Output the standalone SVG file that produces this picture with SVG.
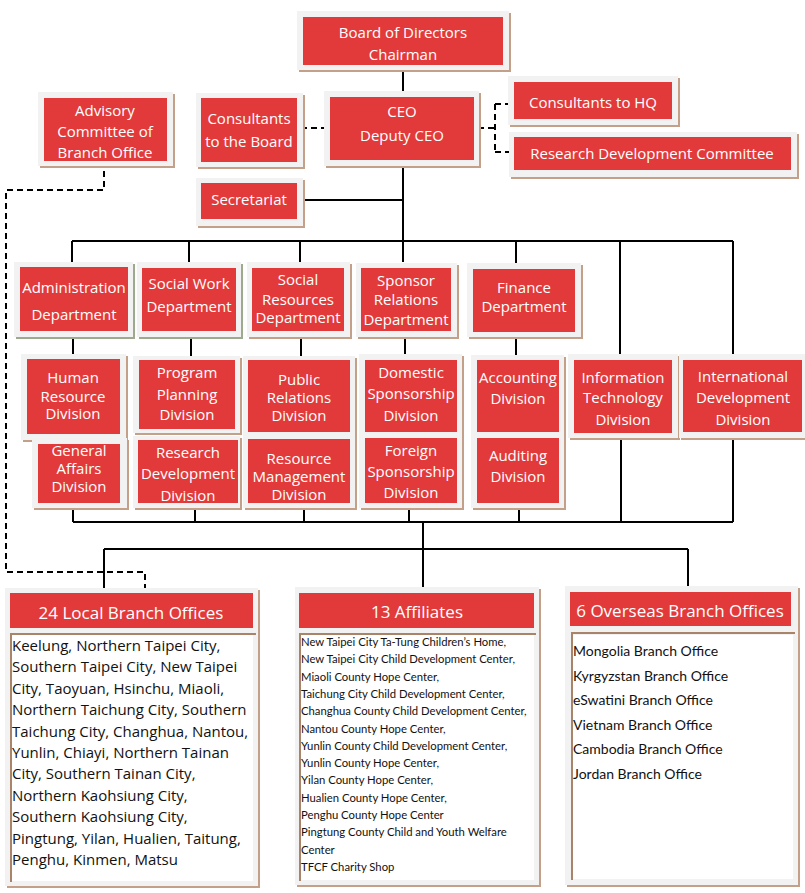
<svg xmlns="http://www.w3.org/2000/svg" width="805" height="893" viewBox="0 0 805 893">
<style>
.sh{fill:#c4a089}
.shg{fill:#9eaa8e}
.fr{fill:#f2f2f2}
.bx{fill:#e23a3a}
.t{font-family:"Open Sans","Liberation Sans",sans-serif;font-size:15px;fill:#ffffff;text-anchor:middle}
.h{font-family:"Open Sans","Liberation Sans",sans-serif;font-size:17px;fill:#ffffff;text-anchor:middle}
.bd{fill:#ffffff}
.bl{fill:#a98468}
.lt{font-family:"Open Sans","Liberation Sans",sans-serif;font-size:15px;fill:#111111}
.at{font-family:Lato,"Liberation Sans",sans-serif;font-size:11.3px;fill:#111111}
.ot{font-family:Lato,"Liberation Sans",sans-serif;font-size:14px;fill:#111111}
.ln{fill:none;stroke:#000;stroke-width:2}
.dl{fill:none;stroke:#000;stroke-width:2;stroke-dasharray:6 4}
</style>
<rect width="805" height="893" fill="#ffffff"/>
<g id="connectors">
<path class="ln" d="M403,70V97M403,160V241M297,200H403M72,241H733M72,241V262M189,241V262M300,241V262M403,241V262M516,241V263M620,241V354M733,241V354"/>
<path class="ln" d="M73,331V357M191,331V357M301,331V357M405,331V357M516,332V358"/>
<path class="ln" d="M73,503V522M195,503V522M304,503V522M409,503V522M519,503V522M621,433V522M733,432V522M73,522H733"/>
<path class="ln" d="M423,522V587M104,549H688M104,549V588M688,549V586"/>
<path class="dl" d="M301,128H328M478,128H495M495,104V152M495,104H510M495,152H510"/>
<path class="dl" d="M104,161V190H6V572H145V588"/>
</g>
<g id="board"><rect class="sh" x="299" y="13" width="212" height="59"/><rect class="fr" x="297" y="11" width="212" height="59"/><rect class="bx" x="303" y="17" width="200" height="48"/><text class="t" x="403" y="38">Board of Directors</text><text class="t" x="403" y="60">Chairman</text></g>
<g id="ceo"><rect class="sh" x="326" y="93" width="155" height="75"/><rect class="fr" x="324" y="91" width="155" height="75"/><rect class="bx" x="330" y="97" width="144" height="63"/><text class="t" x="402" y="117">CEO</text><text class="t" x="402" y="141">Deputy CEO</text></g>
<g id="consultants-board"><rect class="sh" x="198" y="95" width="107" height="74"/><rect class="fr" x="196" y="93" width="107" height="74"/><rect class="bx" x="201" y="98" width="96" height="64"/><text class="t" x="249" y="124">Consultants</text><text class="t" x="249" y="147">to the Board</text></g>
<g id="advisory"><rect class="sh" x="40" y="94" width="135" height="74"/><rect class="fr" x="38" y="92" width="135" height="74"/><rect class="bx" x="44" y="98" width="123" height="63"/><text class="t" x="105" y="116">Advisory</text><text class="t" x="105" y="137">Committee of</text><text class="t" x="105" y="158">Branch Office</text></g>
<g id="secretariat"><rect class="sh" x="198" y="180" width="107" height="48"/><rect class="fr" x="196" y="178" width="107" height="48"/><rect class="bx" x="201" y="183" width="96" height="36"/><text class="t" x="249" y="205">Secretariat</text></g>
<g id="consultants-hq"><rect class="sh" x="510" y="78" width="170" height="49"/><rect class="fr" x="508" y="76" width="170" height="49"/><rect class="bx" x="514" y="82" width="158" height="37"/><text class="t" x="593" y="108">Consultants to HQ</text></g>
<g id="rdc"><rect class="sh" x="511" y="134" width="288" height="45"/><rect class="fr" x="509" y="132" width="288" height="45"/><rect class="bx" x="514" y="137" width="277" height="33"/><text class="t" x="652" y="159">Research Development Committee</text></g>
<g id="admin"><rect class="shg" x="16" y="264" width="119" height="75"/><rect class="fr" x="14" y="262" width="119" height="75"/><rect class="bx" x="20" y="267" width="108" height="64"/><text class="t" x="74" y="293">Administration</text><text class="t" x="74" y="320">Department</text></g>
<g id="social-work"><rect class="shg" x="139" y="264" width="104" height="75"/><rect class="fr" x="137" y="262" width="104" height="75"/><rect class="bx" x="142" y="268" width="94" height="63"/><text class="t" x="189" y="289">Social Work</text><text class="t" x="189" y="312">Department</text></g>
<g id="social-resources"><rect class="sh" x="249" y="264" width="103" height="75"/><rect class="fr" x="247" y="262" width="103" height="75"/><rect class="bx" x="252" y="268" width="92" height="63"/><text class="t" x="298" y="285">Social</text><text class="t" x="298" y="305">Resources</text><text class="t" x="298" y="323">Department</text></g>
<g id="sponsor-relations"><rect class="sh" x="358" y="265" width="101" height="74"/><rect class="fr" x="356" y="263" width="101" height="74"/><rect class="bx" x="361" y="268" width="90" height="63"/><text class="t" x="406" y="286">Sponsor</text><text class="t" x="406" y="305">Relations</text><text class="t" x="406" y="325">Department</text></g>
<g id="finance"><rect class="sh" x="469" y="265" width="114" height="74"/><rect class="fr" x="467" y="263" width="114" height="74"/><rect class="bx" x="473" y="269" width="102" height="63"/><text class="t" x="524" y="293">Finance</text><text class="t" x="524" y="312">Department</text></g>
<g id="human-resource"><rect class="sh" x="23" y="356" width="105" height="86"/><rect class="fr" x="21" y="354" width="105" height="86"/><rect class="bx" x="27" y="359" width="93" height="75"/><text class="t" x="73" y="383">Human</text><text class="t" x="73" y="402">Resource</text><text class="t" x="73" y="419">Division</text></g>
<g id="general-affairs"><rect class="sh" x="34" y="440" width="95" height="70"/><rect class="fr" x="32" y="438" width="95" height="70"/><rect class="bx" x="38" y="444" width="82" height="59"/><text class="t" x="79" y="456">General</text><text class="t" x="79" y="474">Affairs</text><text class="t" x="79" y="492">Division</text></g>
<g id="program-planning"><rect class="sh" x="135" y="358" width="107" height="77"/><rect class="fr" x="133" y="356" width="107" height="77"/><rect class="bx" x="139" y="360" width="96" height="69"/><text class="t" x="187" y="378">Program</text><text class="t" x="187" y="400">Planning</text><text class="t" x="187" y="420">Division</text></g>
<g id="research-development"><rect class="sh" x="135" y="438" width="107" height="72"/><rect class="fr" x="133" y="436" width="107" height="72"/><rect class="bx" x="138" y="440" width="100" height="63"/><text class="t" x="188" y="458">Research</text><text class="t" x="188" y="479">Development</text><text class="t" x="188" y="501">Division</text></g>
<g id="public-relations"><rect class="sh" x="245" y="358" width="112" height="80"/><rect class="fr" x="243" y="356" width="112" height="80"/><rect class="bx" x="248" y="360" width="102" height="72"/><text class="t" x="299" y="385">Public</text><text class="t" x="299" y="403">Relations</text><text class="t" x="299" y="421">Division</text></g>
<g id="resource-management"><rect class="sh" x="245" y="436" width="112" height="74"/><rect class="fr" x="243" y="434" width="112" height="74"/><rect class="bx" x="248" y="439" width="102" height="64"/><text class="t" x="299" y="464">Resource</text><text class="t" x="299" y="482">Management</text><text class="t" x="299" y="500">Division</text></g>
<g id="domestic-sponsorship"><rect class="sh" x="361" y="356" width="103" height="82"/><rect class="fr" x="359" y="354" width="103" height="82"/><rect class="bx" x="365" y="360" width="92" height="72"/><text class="t" x="411" y="378">Domestic</text><text class="t" x="411" y="399">Sponsorship</text><text class="t" x="411" y="421">Division</text></g>
<g id="foreign-sponsorship"><rect class="sh" x="361" y="434" width="103" height="76"/><rect class="fr" x="359" y="432" width="103" height="76"/><rect class="bx" x="365" y="438" width="92" height="65"/><text class="t" x="411" y="456">Foreign</text><text class="t" x="411" y="477">Sponsorship</text><text class="t" x="411" y="498">Division</text></g>
<g id="accounting"><rect class="sh" x="473" y="357" width="93" height="81"/><rect class="fr" x="471" y="355" width="93" height="81"/><rect class="bx" x="477" y="360" width="82" height="72"/><text class="t" x="518" y="383">Accounting</text><text class="t" x="518" y="404">Division</text></g>
<g id="auditing"><rect class="sh" x="473" y="434" width="93" height="76"/><rect class="fr" x="471" y="432" width="93" height="76"/><rect class="bx" x="477" y="438" width="82" height="65"/><text class="t" x="518" y="461">Auditing</text><text class="t" x="518" y="482">Division</text></g>
<g id="information-technology"><rect class="sh" x="570" y="356" width="110" height="84"/><rect class="fr" x="568" y="354" width="110" height="84"/><rect class="bx" x="574" y="360" width="98" height="73"/><text class="t" x="623" y="383">Information</text><text class="t" x="623" y="403">Technology</text><text class="t" x="623" y="425">Division</text></g>
<g id="international-development"><rect class="sh" x="681" y="356" width="126" height="84"/><rect class="fr" x="679" y="354" width="126" height="84"/><rect class="bx" x="683" y="360" width="119" height="72"/><text class="t" x="743" y="382">International</text><text class="t" x="743" y="403">Development</text><text class="t" x="743" y="425">Division</text></g>
<g id="local-branches">
<rect class="sh" x="7" y="590" width="253" height="298"/>
<rect class="fr" x="5" y="588" width="253" height="298"/>
<rect class="bd" x="11" y="635" width="242" height="246"/>
<rect class="bl" x="10" y="634" width="2" height="248"/>
<rect class="bl" x="10" y="633" width="246" height="2"/>
<rect class="bx" x="10" y="593" width="243" height="35"/>
<text class="h" x="131" y="619">24 Local Branch Offices</text>
<text class="lt" x="12" y="651">Keelung, Northern Taipei City,</text>
<text class="lt" x="12" y="672.4">Southern Taipei City, New Taipei</text>
<text class="lt" x="12" y="693.8">City, Taoyuan, Hsinchu, Miaoli,</text>
<text class="lt" x="12" y="715.2">Northern Taichung City, Southern</text>
<text class="lt" x="12" y="736.6">Taichung City, Changhua, Nantou,</text>
<text class="lt" x="12" y="758">Yunlin, Chiayi, Northern Tainan</text>
<text class="lt" x="12" y="779.4">City, Southern Tainan City,</text>
<text class="lt" x="12" y="800.8">Northern Kaohsiung City,</text>
<text class="lt" x="12" y="822.2">Southern Kaohsiung City,</text>
<text class="lt" x="12" y="843.6">Pingtung, Yilan, Hualien, Taitung,</text>
<text class="lt" x="12" y="865">Penghu, Kinmen, Matsu</text>
</g>
<g id="affiliates">
<rect class="sh" x="297" y="589" width="244" height="298"/>
<rect class="fr" x="295" y="587" width="244" height="298"/>
<rect class="bd" x="300" y="635" width="234" height="245"/>
<rect class="bl" x="299" y="634" width="2" height="247"/>
<rect class="bl" x="299" y="633" width="237" height="2"/>
<rect class="bx" x="299" y="593" width="235" height="35"/>
<text class="h" x="417" y="618">13 Affiliates</text>
<text class="at" x="301" y="646">New Taipei City Ta-Tung Children’s Home,</text>
<text class="at" x="301" y="663.3">New Taipei City Child Development Center,</text>
<text class="at" x="301" y="680.6">Miaoli County Hope Center,</text>
<text class="at" x="301" y="697.9">Taichung City Child Development Center,</text>
<text class="at" x="301" y="715.2">Changhua County Child Development Center,</text>
<text class="at" x="301" y="732.5">Nantou County Hope Center,</text>
<text class="at" x="301" y="749.8">Yunlin County Child Development Center,</text>
<text class="at" x="301" y="767.1">Yunlin County Hope Center,</text>
<text class="at" x="301" y="784.4">Yilan County Hope Center,</text>
<text class="at" x="301" y="801.7">Hualien County Hope Center,</text>
<text class="at" x="301" y="819">Penghu County Hope Center</text>
<text class="at" x="301" y="836.3">Pingtung County Child and Youth Welfare</text>
<text class="at" x="301" y="853.6">Center</text>
<text class="at" x="301" y="870.9">TFCF Charity Shop</text>
</g>
<g id="overseas-branches">
<rect class="sh" x="567" y="588" width="233" height="299"/>
<rect class="fr" x="565" y="586" width="233" height="299"/>
<rect class="bd" x="572" y="635" width="221" height="244"/>
<rect class="bl" x="571" y="634" width="2" height="246"/>
<rect class="bl" x="571" y="632" width="224" height="2"/>
<rect class="bx" x="570" y="592" width="221" height="34"/>
<text class="h" x="680" y="617">6 Overseas Branch Offices</text>
<text class="ot" x="573" y="656">Mongolia Branch Office</text>
<text class="ot" x="573" y="681">Kyrgyzstan Branch Office</text>
<text class="ot" x="573" y="705">eSwatini Branch Office</text>
<text class="ot" x="573" y="730">Vietnam Branch Office</text>
<text class="ot" x="573" y="754">Cambodia Branch Office</text>
<text class="ot" x="573" y="779">Jordan Branch Office</text>
</g>
</svg>
